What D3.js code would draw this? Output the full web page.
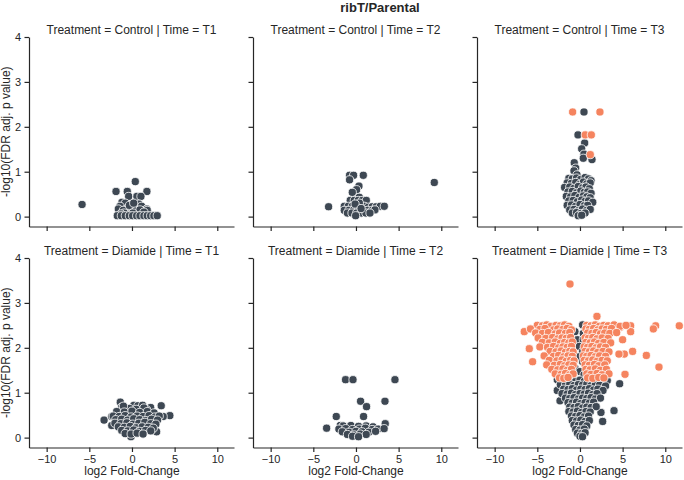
<!DOCTYPE html>
<html>
<head>
<meta charset="utf-8">
<script src="https://cdn.jsdelivr.net/npm/d3@7"></script>
<style>
  body { margin: 0; background: #fff; }
  text { font-family: "Liberation Sans", Arial, sans-serif; fill: #262626; }
</style>
</head>
<body>
<svg id="chart" width="684" height="480"></svg>
<script>
// facets and ticks
const treatments = ['Control', 'Diamide']
const times = ['T1', 'T2', 'T3']
const xTicks = [-10, -5, 0, 5, 10]
const yTicks = [0, 1, 2, 3, 4]

// points are [log2 fold-change, -log10 adj. p]
const controlT1 = [
    [-5.85, 0.27], [-1.87, 0.56], [-0.55, 0.56], [0.39, 0.78], [1.75, 0.56], [-0.39, 0.45], [0.58, 0.45], [1.05, 0.45],
    [-1.17, 0.32], [-0.78, 0.30], [-1.40, 0.23], [-1.60, 0.17], [-0.62, 0.17], [-0.08, 0.20], [0.82, 0.28], [1.13, 0.23],
    [1.75, 0.17], [1.79, 0.14], [-1.01, 0.14], [0.47, 0.14], [0.94, 0.15], [-0.30, 0.25], [0.20, 0.30], [1.40, 0.10],
    [-0.90, 0.08], [0.10, 0.08], [-1.30, 0.06],
    [-1.72, 0.02], [-1.25, 0.02], [-0.78, 0.02], [-0.31, 0.02], [0.08, 0.02], [0.55, 0.02], [0.94, 0.02], [1.40, 0.02],
    [1.79, 0.02], [2.19, 0.02], [2.57, 0.02], [2.96, 0.02]
]
const controlT2 = [
    [-3.21, 0.22], [9.18, 0.76], [-0.75, 0.92], [-0.28, 0.92], [0.86, 0.92], [-0.75, 0.82], [0.35, 0.68], [0.07, 0.60],
    [-0.43, 0.54], [0.39, 0.43], [-0.67, 0.36], [-0.20, 0.36], [0.27, 0.36], [0.74, 0.36], [1.21, 0.36],
    [-1.37, 0.23], [-0.90, 0.23], [-0.43, 0.23], [0.04, 0.23], [0.50, 0.25], [0.97, 0.23], [1.44, 0.21], [1.91, 0.22],
    [2.38, 0.22], [2.85, 0.23], [3.32, 0.23],
    [-1.37, 0.14], [-0.82, 0.14], [-0.28, 0.14], [0.27, 0.14], [0.82, 0.14], [1.36, 0.14], [1.91, 0.14], [2.22, 0.15],
    [-1.00, 0.08], [-0.47, 0.08], [0.08, 0.08], [0.62, 0.08], [1.17, 0.08], [1.64, 0.08], [-0.04, 0.02], [0.40, 0.30],
    [-0.10, 0.28], [0.60, 0.18]
]
const controlT3 = [
    [0.47, 2.33], [-0.23, 1.82], [0.55, 1.64], [0.20, 1.51], [0.47, 1.39], [0.39, 1.30], [1.41, 1.27], [-0.67, 1.20],
    [-0.50, 1.08], [-0.70, 1.02], [-0.35, 0.93],
    [-1.3, 0.85], [-0.9, 0.84], [-0.4, 0.86], [0.1, 0.83], [0.6, 0.87], [1.0, 0.84], [1.3, 0.80],
    [-1.5, 0.75], [-1.0, 0.74], [-0.5, 0.76], [0.0, 0.72], [0.4, 0.77], [0.8, 0.73], [1.2, 0.75],
    [-1.8, 0.65], [-1.2, 0.66], [-0.7, 0.63], [-0.2, 0.67], [0.3, 0.64], [0.7, 0.66], [1.1, 0.62],
    [-1.4, 0.55], [-0.9, 0.56], [-0.4, 0.53], [0.1, 0.57], [0.5, 0.54], [0.9, 0.55], [1.3, 0.52],
    [-1.6, 0.45], [-1.1, 0.44], [-0.6, 0.47], [-0.1, 0.43], [0.4, 0.46], [0.8, 0.44], [1.2, 0.42],
    [-1.3, 0.35], [-0.8, 0.36], [-0.3, 0.33], [0.2, 0.37], [0.6, 0.34], [1.0, 0.35], [1.5, 0.32],
    [-1.5, 0.25], [-1.0, 0.26], [-0.5, 0.23], [0.0, 0.27], [0.5, 0.24], [0.9, 0.25],
    [-1.2, 0.15], [-0.7, 0.16], [-0.2, 0.13], [0.3, 0.17], [0.8, 0.14], [1.2, 0.16],
    [-0.9, 0.08], [-0.4, 0.09], [0.1, 0.07], [0.6, 0.08], [-0.2, 0.02], [0.2, 0.03]
]
const controlT3Sig = [[-0.86, 2.33], [2.34, 2.33], [0.62, 1.82], [1.33, 1.82], [1.21, 1.38]]
const diamideT1 = [
    [-1.37, 0.79], [0.23, 0.72], [0.70, 0.71], [1.25, 0.72], [3.43, 0.71], [-0.74, 0.62], [-1.20, 0.68], [2.19, 0.67],
    [1.72, 0.62], [-3.27, 0.39], [4.44, 0.49], [3.66, 0.47], [-2.37, 0.47], [-2.37, 0.27], [2.89, 0.13], [-0.12, 0.02],
    [-0.3, 0.65], [0.5, 0.63], [1.4, 0.66], [-1.0, 0.70],
    [-1.8, 0.58], [-0.9, 0.57], [0.0, 0.59], [0.9, 0.56], [1.8, 0.58], [2.6, 0.55],
    [-2.2, 0.48], [-1.5, 0.47], [-0.8, 0.49], [-0.1, 0.46], [0.6, 0.48], [1.3, 0.47], [2.0, 0.49], [2.7, 0.46], [3.2, 0.48],
    [-1.9, 0.40], [-1.2, 0.41], [-0.5, 0.39], [0.2, 0.42], [0.9, 0.40], [1.6, 0.38], [2.3, 0.41], [3.0, 0.39],
    [-2.0, 0.32], [-1.3, 0.31], [-0.6, 0.33], [0.1, 0.30], [0.8, 0.32], [1.5, 0.34], [2.2, 0.31], [2.8, 0.30],
    [-1.6, 0.24], [-0.9, 0.23], [-0.2, 0.25], [0.5, 0.22], [1.2, 0.24], [1.9, 0.23], [2.5, 0.21],
    [-1.2, 0.16], [-0.5, 0.15], [0.2, 0.17], [0.9, 0.14], [1.6, 0.16], [2.2, 0.15],
    [-0.8, 0.09], [-0.1, 0.08], [0.6, 0.10], [1.3, 0.08]
]
const diamideT2 = [
    [-1.22, 1.29], [-0.35, 1.29], [4.57, 1.29], [0.54, 0.81], [3.40, 0.81], [1.24, 0.69], [-2.31, 0.47], [0.89, 0.47],
    [-3.44, 0.21], [3.43, 0.31], [-1.84, 0.27],
    [-1.5, 0.26], [-0.6, 0.27], [0.3, 0.25], [1.2, 0.26], [2.0, 0.24],
    [-2.0, 0.19], [-1.2, 0.20], [-0.4, 0.18], [0.4, 0.19], [1.1, 0.21], [1.9, 0.18], [2.6, 0.19], [3.3, 0.20],
    [-1.6, 0.13], [-0.8, 0.12], [0.0, 0.14], [0.7, 0.13], [1.5, 0.12], [2.3, 0.14],
    [-1.0, 0.07], [-0.2, 0.06], [0.5, 0.08], [1.2, 0.07], [-0.4, 0.03], [0.3, 0.02]
]
const diamideT3 = [
    [0.31, 2.51], [-0.59, 2.36], [0.39, 2.32], [-0.31, 2.18], [0.39, 2.18], [-0.08, 2.03], [0.31, 1.92], [-0.27, 1.80],
    [0.31, 1.69], [-0.59, 1.55], [0.00, 1.47], [-0.78, 1.36], [0.47, 1.40],
    [4.65, 1.20], [3.99, 0.60], [2.66, 0.36], [2.46, 0.56], [-2.66, 1.29], [-2.66, 1.05], [-2.34, 0.82],
    [-2.0, 1.28], [-1.5, 1.27], [-1.0, 1.29], [-0.5, 1.26], [0.0, 1.28], [0.5, 1.25], [1.0, 1.28], [1.5, 1.27], [2.0, 1.26], [2.6, 1.29], [3.2, 1.27],
    [-2.3, 1.18], [-1.7, 1.17], [-1.2, 1.19], [-0.7, 1.16], [-0.2, 1.18], [0.3, 1.17], [0.8, 1.19], [1.3, 1.16], [1.8, 1.18], [2.3, 1.17], [3.0, 1.15],
    [-1.9, 1.08], [-1.4, 1.07], [-0.9, 1.09], [-0.4, 1.06], [0.1, 1.08], [0.6, 1.07], [1.1, 1.09], [1.6, 1.06], [2.1, 1.08], [2.7, 1.05],
    [-2.1, 0.98], [-1.5, 0.97], [-1.0, 0.99], [-0.5, 0.96], [0.0, 0.98], [0.5, 0.97], [1.0, 0.99], [1.5, 0.96], [2.0, 0.98],
    [-1.7, 0.88], [-1.2, 0.87], [-0.7, 0.89], [-0.2, 0.86], [0.3, 0.88], [0.8, 0.87], [1.3, 0.89], [1.8, 0.86], [2.4, 0.88],
    [-1.4, 0.78], [-0.9, 0.77], [-0.4, 0.79], [0.1, 0.76], [0.6, 0.78], [1.1, 0.77], [1.6, 0.79],
    [-1.2, 0.68], [-0.7, 0.67], [-0.2, 0.69], [0.3, 0.66], [0.8, 0.68], [1.3, 0.67], [1.9, 0.69],
    [-1.3, 0.58], [-0.8, 0.57], [-0.3, 0.59], [0.2, 0.56], [0.7, 0.58], [1.2, 0.57],
    [-1.0, 0.48], [-0.5, 0.47], [0.0, 0.49], [0.5, 0.46], [1.0, 0.48],
    [-0.9, 0.38], [-0.4, 0.37], [0.1, 0.39], [0.6, 0.36], [1.1, 0.38],
    [-0.7, 0.28], [-0.2, 0.27], [0.3, 0.29], [0.8, 0.26],
    [-0.5, 0.18], [0.0, 0.17], [0.5, 0.19], [-0.3, 0.10], [0.2, 0.09], [0.6, 0.11], [0.0, 0.03], [0.3, 0.02]
]
const diamideT3Sig = [
    [-1.17, 3.42], [1.99, 2.70], [-6.53, 2.36], [11.64, 2.49], [8.87, 2.49], [8.60, 2.42], [5.94, 2.49], [5.94, 2.36],
    [-5.94, 1.98], [-5.55, 1.69], [7.78, 1.83], [9.26, 1.57], [6.17, 1.92], [5.20, 1.86], [4.57, 1.86], [5.28, 1.41],
    [5.00, 2.18], [3.95, 2.47], [4.69, 2.45],
    [-5.0, 2.50], [-4.4, 2.49], [-3.9, 2.51], [-3.4, 2.48], [-2.8, 2.50], [-2.3, 2.49], [-1.8, 2.51], [-1.3, 2.48],
    [0.8, 2.50], [1.3, 2.49], [1.8, 2.51], [2.3, 2.48], [2.8, 2.50], [3.3, 2.49], [4.0, 2.51], [4.7, 2.48], [5.4, 2.50],
    [-5.8, 2.42], [-4.7, 2.41], [-4.1, 2.43], [-3.1, 2.40], [-2.6, 2.42], [-2.0, 2.41], [-1.5, 2.43], [-1.0, 2.40],
    [0.7, 2.42], [1.1, 2.41], [1.6, 2.43], [2.1, 2.40], [2.6, 2.42], [3.1, 2.41], [3.7, 2.43],
    [-5.2, 2.33], [-4.4, 2.32], [-3.7, 2.34], [-2.9, 2.31], [-2.4, 2.33], [-1.7, 2.32], [-1.2, 2.34],
    [0.9, 2.33], [1.4, 2.32], [1.9, 2.34], [2.4, 2.31], [2.9, 2.33], [3.5, 2.32], [4.3, 2.34],
    [-4.9, 2.22], [-4.0, 2.21], [-3.2, 2.23], [-2.6, 2.20], [-2.1, 2.22], [-1.6, 2.21], [-1.1, 2.23],
    [0.6, 2.22], [1.0, 2.21], [1.5, 2.23], [2.0, 2.20], [2.6, 2.22], [3.3, 2.21],
    [-4.4, 2.12], [-3.6, 2.11], [-2.9, 2.13], [-2.3, 2.10], [-1.8, 2.12], [-1.3, 2.11], [-0.9, 2.13],
    [0.7, 2.12], [1.2, 2.11], [1.7, 2.13], [2.2, 2.10], [2.8, 2.12], [3.6, 2.11],
    [-4.7, 2.02], [-3.8, 2.01], [-3.1, 2.03], [-2.5, 2.00], [-2.0, 2.02], [-1.5, 2.01], [-1.0, 2.03],
    [0.5, 2.02], [0.9, 2.01], [1.4, 2.03], [1.9, 2.00], [2.4, 2.02], [3.0, 2.01],
    [-3.5, 1.92], [-2.8, 1.91], [-2.2, 1.93], [-1.7, 1.90], [-1.2, 1.92], [-0.8, 1.91],
    [0.6, 1.92], [1.1, 1.91], [1.6, 1.93], [2.1, 1.90], [2.7, 1.92], [3.4, 1.91],
    [-4.2, 1.82], [-3.1, 1.81], [-2.5, 1.83], [-1.9, 1.80], [-1.4, 1.82], [-0.9, 1.81],
    [0.4, 1.82], [0.8, 1.81], [1.3, 1.83], [1.8, 1.80], [2.3, 1.82], [3.0, 1.81],
    [-3.6, 1.72], [-2.7, 1.71], [-2.1, 1.73], [-1.6, 1.70], [-1.1, 1.72], [-0.7, 1.71],
    [0.5, 1.72], [1.0, 1.71], [1.5, 1.73], [2.0, 1.70], [2.6, 1.72], [3.2, 1.71],
    [-3.9, 1.62], [-3.0, 1.61], [-2.3, 1.63], [-1.8, 1.60], [-1.3, 1.62], [-0.8, 1.61],
    [0.6, 1.62], [1.1, 1.61], [1.7, 1.63], [2.2, 1.60], [2.9, 1.62],
    [-3.3, 1.52], [-2.6, 1.51], [-2.0, 1.53], [-1.5, 1.50], [-1.0, 1.52],
    [0.7, 1.52], [1.2, 1.51], [1.8, 1.53], [2.4, 1.50], [3.1, 1.52],
    [-2.9, 1.42], [-2.2, 1.41], [-1.7, 1.43], [-1.2, 1.40], [-0.8, 1.42],
    [0.8, 1.42], [1.3, 1.41], [2.0, 1.43], [2.6, 1.40], [3.4, 1.42],
    [-2.4, 1.33], [-1.9, 1.32], [-1.4, 1.34], [0.9, 1.33], [1.5, 1.32], [2.2, 1.34], [2.8, 1.33]
]

const panels = [
    { treatment: treatments[0], time: times[0], ns: controlT1, sig: [] },
    { treatment: treatments[0], time: times[1], ns: controlT2, sig: [] },
    { treatment: treatments[0], time: times[2], ns: controlT3, sig: controlT3Sig },
    { treatment: treatments[1], time: times[0], ns: diamideT1, sig: [] },
    { treatment: treatments[1], time: times[1], ns: diamideT2, sig: [] },
    { treatment: treatments[1], time: times[2], ns: diamideT3, sig: diamideT3Sig }
]

const nsColor = '#3e4853'
const sigColor = '#f5845f'

// layout
const panelW = 205, panelH = 189.5
const colLeft = [29, 253, 477]
const rowTop = [37, 258]

const svg = d3.select('#chart')

const x = d3.scaleLinear().domain([-12.07, 11.96]).range([0, panelW])
const y = d3.scaleLinear().domain([-0.22, 4]).range([panelH, 0])

svg.append('text')
    .attr('x', 380)
    .attr('y', 11.5)
    .attr('text-anchor', 'middle')
    .style('font-size', '13px')
    .style('font-weight', 'bold')
    .text('ribT/Parental')

panels.forEach((p, i) => {
    const row = Math.floor(i / 3), col = i % 3
    const g = svg.append('g')
        .attr('transform', `translate(${colLeft[col]}, ${rowTop[row]})`)

    // axes
    const xAxis = d3.axisBottom(x)
        .tickValues(xTicks)
        .tickSize(4.5)
        .tickSizeOuter(0)
        .tickPadding(3)
        .tickFormat(row === 0 ? () => '' : d3.format('d'))
    const yAxis = d3.axisLeft(y)
        .tickValues(yTicks)
        .tickSize(4.5)
        .tickSizeOuter(0)
        .tickPadding(3.5)
        .tickFormat(col > 0 ? () => '' : d3.format('d'))

    const gx = g.append('g')
        .attr('transform', `translate(0, ${panelH})`)
        .call(xAxis)
    const gy = g.append('g').call(yAxis)

    ;[gx, gy].forEach(a => {
        a.selectAll('path, line').attr('stroke', '#262626').attr('stroke-width', 1.2)
        a.selectAll('text')
            .style('font-size', '11px')
            .style('font-family', '"Liberation Sans", Arial, sans-serif')
            .attr('fill', '#262626')
    })

    // points
    g.append('g')
        .selectAll('circle')
        .data(p.ns.concat(p.sig.map(d => [d[0], d[1], 1])))
        .enter()
        .append('circle')
        .attr('cx', d => x(d[0]))
        .attr('cy', d => y(d[1]))
        .attr('r', 4.1)
        .attr('fill', d => d[2] ? sigColor : nsColor)
        .attr('stroke', '#fff')
        .attr('stroke-width', 0.8)

    // facet title
    g.append('text')
        .attr('x', panelW / 2)
        .attr('y', -3.5)
        .attr('text-anchor', 'middle')
        .style('font-size', '12px')
        .text(`Treatment = ${p.treatment} | Time = ${p.time}`)

    if (col === 0) {
        svg.append('text')
            .attr('transform', `translate(10, ${rowTop[row] + panelH / 2}) rotate(-90)`)
            .attr('text-anchor', 'middle')
            .style('font-size', '12px')
            .text('-log10(FDR adj. p value)')
    }
    if (row === 1) {
        g.append('text')
            .attr('x', x(0))
            .attr('y', 475 - rowTop[row])
            .attr('text-anchor', 'middle')
            .style('font-size', '12px')
            .text('log2 Fold-Change')
    }
})
</script>
</body>
</html>
